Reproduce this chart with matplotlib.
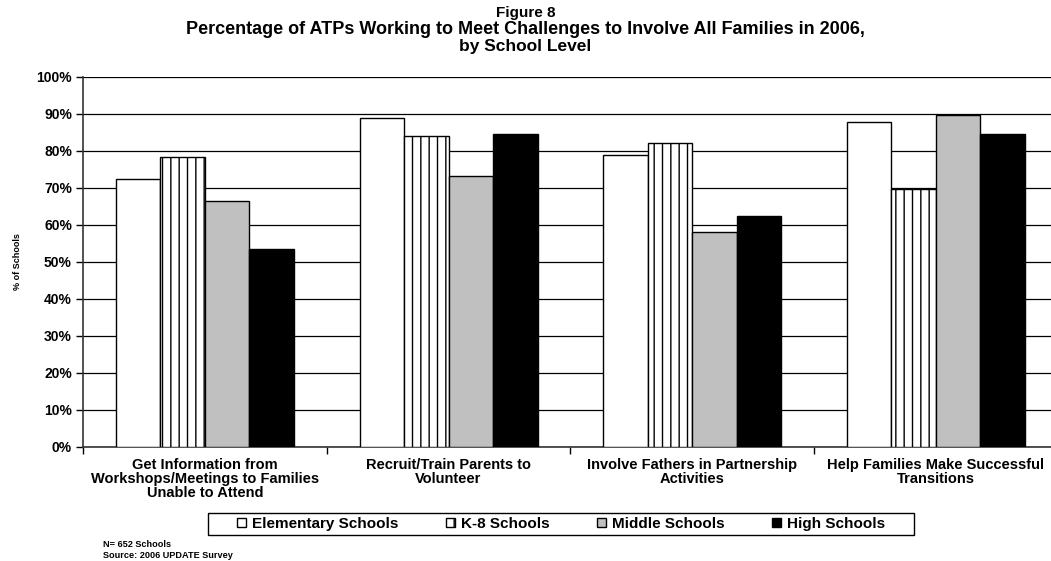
import numpy as np
import matplotlib
matplotlib.use('Agg')
import matplotlib.pyplot as plt
from matplotlib.patches import Rectangle
from matplotlib.ticker import MultipleLocator, PercentFormatter

plt.rcParams['font.family'] = ['Liberation Sans', 'DejaVu Sans']
plt.rcParams['font.weight'] = 'bold'
plt.rcParams['hatch.linewidth'] = 1.0

categories = ['Get Information from\nWorkshops/Meetings to Families\nUnable to Attend',
              'Recruit/Train Parents to\nVolunteer',
              'Involve Fathers in Partnership\nActivities',
              'Help Families Make Successful\nTransitions']
series_names = ['Elementary Schools', 'K-8 Schools', 'Middle Schools', 'High Schools']
elementary = [72.3, 88.8, 78.8, 87.8]
k8 = [78.4, 84.1, 82.0, 69.6]
middle = [66.5, 73.2, 58.0, 89.6]
high = [53.4, 84.6, 62.4, 84.4]

# 每组四根柱子: 小学 / K-8 / 初中 / 高中
series = [elementary, k8, middle, high]
faces = ['white', 'white', '#c0c0c0', 'black']
hatches = [None, '||', None, None]

W, H = 1051, 561
fig = plt.figure(figsize=(W / 100, H / 100), dpi=100)
ax = fig.add_axes([83 / W, 1 - 446.7 / H, 974.7 / W, 370 / H])

x = np.arange(len(categories))
width = 0.1826
for i, (vals, fc, h, name) in enumerate(zip(series, faces, hatches, series_names)):
    ax.bar(x + (i - 1.5) * width, vals, width, color=fc, edgecolor='black',
           linewidth=1.0, hatch=h, label=name, zorder=3)

ax.set_xlim(-0.5, len(categories) - 0.5)
ax.set_ylim(0, 100)
ax.yaxis.set_major_locator(MultipleLocator(10))
ax.yaxis.set_major_formatter(PercentFormatter(decimals=0))
ax.grid(axis='y', color='black', linewidth=0.9, zorder=0)
ax.set_axisbelow(True)

# x轴刻度放在类别之间, 标签放在中间
ax.set_xticks(np.arange(len(categories) + 1) - 0.5)
ax.set_xticklabels([])
ax.set_xticks(x, minor=True)
ax.set_xticklabels(categories, minor=True, fontsize=10.5, fontweight='bold', linespacing=1.02)
ax.tick_params(axis='x', which='minor', length=0, pad=8)
ax.tick_params(axis='x', which='major', length=5, width=1, direction='out')
ax.tick_params(axis='y', length=5, width=1, direction='out', labelsize=10, pad=3)
for lab in ax.get_yticklabels():
    lab.set_fontweight('bold')

for side in ['top', 'right']:
    ax.spines[side].set_visible(False)
for side in ['left', 'bottom']:
    ax.spines[side].set_color('#333333')
    ax.spines[side].set_linewidth(1.2)

ax.set_ylabel('% of Schools', fontsize=6.5, fontweight='bold', labelpad=10)

# 标题分三行
fig.text(0.5, 1 - 13 / H, 'Figure 8', ha='center', va='center', fontsize=11, fontweight='bold')
fig.text(0.5, 1 - 30 / H, 'Percentage of ATPs Working to Meet Challenges to Involve All Families in 2006,',
         ha='center', va='center', fontsize=13, fontweight='bold')
fig.text(0.5, 1 - 47 / H, 'by School Level', ha='center', va='center', fontsize=12.5, fontweight='bold')

# 图例: 无边框, 外框单独画
leg = fig.legend(loc='center', bbox_to_anchor=(561 / W, 1 - 524 / H), ncol=4,
                 frameon=False, handlelength=0.6, handleheight=0.6,
                 handletextpad=0.4, columnspacing=3.1, borderpad=0, borderaxespad=0,
                 prop={'size': 11, 'weight': 'bold'})
fig.patches.append(Rectangle((208 / W, 1 - 535 / H), 706 / W, 22 / H, transform=fig.transFigure,
                             facecolor='none', edgecolor='black', linewidth=1.0))

fig.text(103 / W, 1 - 550 / H, 'N= 652 Schools\nSource: 2006 UPDATE Survey',
         ha='left', va='center', fontsize=6.6, fontweight='bold', linespacing=1.15)

fig.savefig('out.png', dpi=100)
